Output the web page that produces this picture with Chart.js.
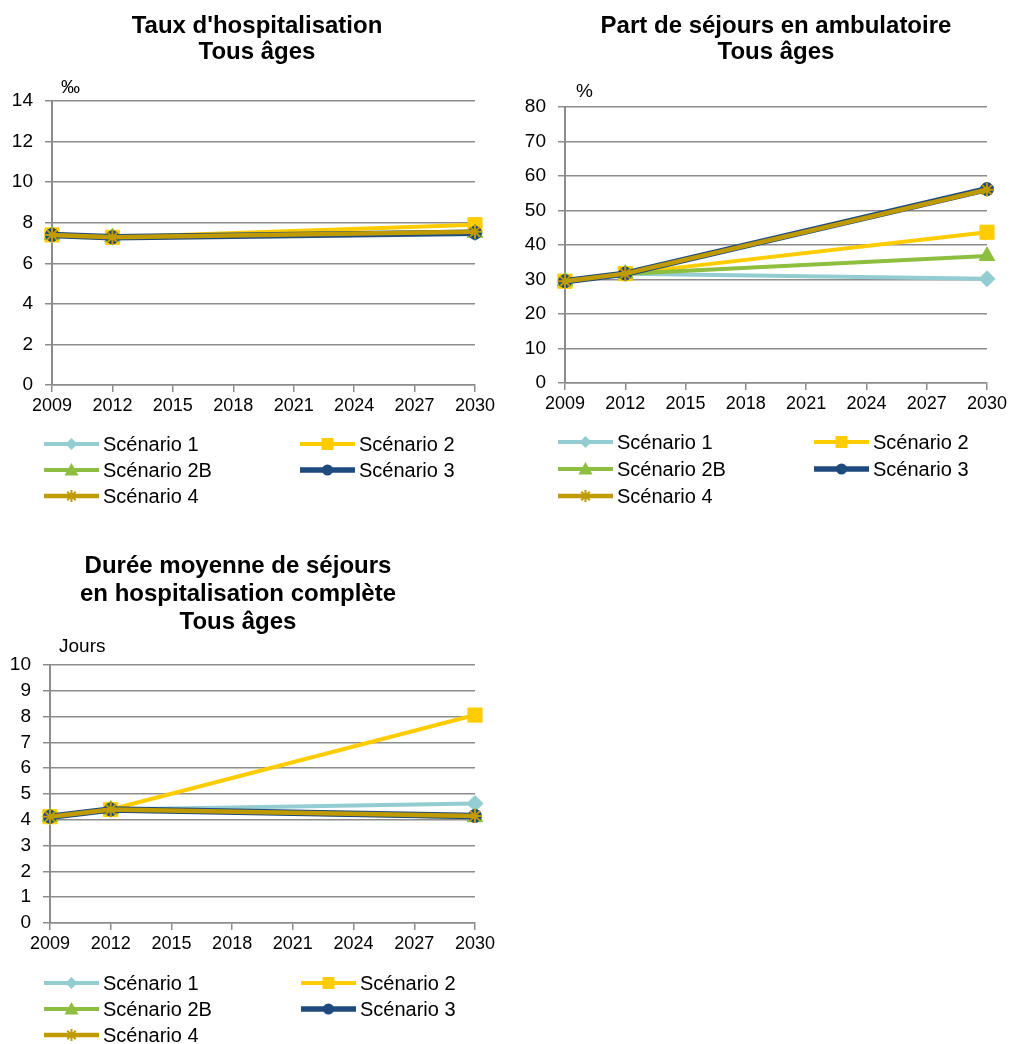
<!DOCTYPE html>
<html lang="fr">
<head>
<meta charset="utf-8">
<script src="https://cdn.jsdelivr.net/npm/chart.js@4.4.1/dist/chart.umd.min.js"></script>
<style>
  html, body { margin: 0; padding: 0; background: #fff; }
  #page { position: relative; width: 1010px; height: 1044px; }
  canvas { position: absolute; }
</style>
</head>
<body>
<div id="page">
  <canvas id="hosp" width="505" height="530" style="left:0;top:0"></canvas>
  <canvas id="ambu" width="505" height="530" style="left:505px;top:0"></canvas>
  <canvas id="dms" width="505" height="504" style="left:0;top:540px"></canvas>
</div>
<script>
/* Projections hospitalières — 3 line charts, 5 scénarios */

const FONT = "'Liberation Sans', Arial, sans-serif";
const GRID = "#8c8c8c";

const YEARS = ["2009", "2012", "2015", "2018", "2021", "2024", "2027", "2030"];
const SCENARIOS = ["Scénario 1", "Scénario 2", "Scénario 2B", "Scénario 3", "Scénario 4"];
const COLORS = ["#93CDD1", "#FFCC00", "#8DBE3F", "#1F4A7E", "#BF9B00"];

// taux d'hospitalisation, tous âges (‰)
const HOSP_S1  = [7.40, 7.28, null, null, null, null, null, 7.50];
const HOSP_S2  = [7.40, 7.28, null, null, null, null, null, 7.90];
const HOSP_S2B = [7.40, 7.28, null, null, null, null, null, 7.50];
const HOSP_S3  = [7.40, 7.28, null, null, null, null, null, 7.50];
const HOSP_S4  = [7.40, 7.28, null, null, null, null, null, 7.55];

// part de séjours en ambulatoire (%)
const AMBU_S1  = [29.5, 31.7, null, null, null, null, null, 30.2];
const AMBU_S2  = [29.5, 31.7, null, null, null, null, null, 43.7];
const AMBU_S2B = [29.5, 31.7, null, null, null, null, null, 36.8];
const AMBU_S3  = [29.5, 31.7, null, null, null, null, null, 56.2];
const AMBU_S4  = [29.5, 31.7, null, null, null, null, null, 56.0];

// durée moyenne de séjour en hospitalisation complète (jours)
const DMS_S1  = [4.12, 4.40, null, null, null, null, null, 4.63];
const DMS_S2  = [4.12, 4.40, null, null, null, null, null, 8.06];
const DMS_S2B = [4.12, 4.40, null, null, null, null, null, 4.10];
const DMS_S3  = [4.12, 4.40, null, null, null, null, null, 4.15];
const DMS_S4  = [4.12, 4.40, null, null, null, null, null, 4.15];

/* ---------- marker look per scénario ---------- */
const STYLES = ["rectRot", "rect", "triangle", "circle", "star"];
const RADII = [8, 10, 9, 6.5, 7];
const WIDTHS = [4, 4, 4, 6.5, 4.5];
const LEG_R = { rectRot: 6, rect: 6, triangle: 7, circle: 5.5, star: 6 };

function drawMarker(ctx, style, x, y, r, color) {
  ctx.save();
  ctx.fillStyle = color; ctx.strokeStyle = color; ctx.lineWidth = 2;
  ctx.beginPath();
  if (style === "rectRot") {
    ctx.moveTo(x, y - r); ctx.lineTo(x + r, y); ctx.lineTo(x, y + r); ctx.lineTo(x - r, y);
    ctx.closePath(); ctx.fill();
  } else if (style === "rect") {
    ctx.fillRect(x - r, y - r, 2 * r, 2 * r);
  } else if (style === "triangle") {
    ctx.moveTo(x, y - r); ctx.lineTo(x + r, y + r * 0.8); ctx.lineTo(x - r, y + r * 0.8);
    ctx.closePath(); ctx.fill();
  } else if (style === "circle") {
    ctx.arc(x, y, r, 0, Math.PI * 2); ctx.fill();
  } else {
    for (let k = 0; k < 4; k++) {
      const a = k * Math.PI / 4;
      ctx.moveTo(x - Math.cos(a) * r, y - Math.sin(a) * r);
      ctx.lineTo(x + Math.cos(a) * r, y + Math.sin(a) * r);
    }
    ctx.stroke();
  }
  ctx.restore();
}

/* ---------- titles, unit label and legend ---------- */
const decor = {
  id: "decor",
  afterDraw(chart, args, o) {
    const ctx = chart.ctx;
    ctx.save();
    ctx.fillStyle = "#000";
    ctx.textAlign = "center";
    ctx.textBaseline = "alphabetic";
    ctx.font = `bold 24px ${FONT}`;
    o.title.forEach((t, i) => ctx.fillText(t, o.titleX, o.titleY + i * o.titleGap));

    ctx.textAlign = "left";
    ctx.font = `19px ${FONT}`;
    ctx.fillText(o.unit, o.unitX, o.unitY);

    ctx.font = `20px ${FONT}`;
    ctx.textBaseline = "middle";
    chart.data.datasets.forEach((ds, i) => {
      const x0 = i % 2 ? o.legX2 : o.legX1;
      const y = o.legY + Math.floor(i / 2) * o.legDy;
      ctx.strokeStyle = ds.borderColor;
      ctx.lineWidth = Math.min(ds.borderWidth, 5.5);
      ctx.beginPath(); ctx.moveTo(x0, y); ctx.lineTo(x0 + 55, y); ctx.stroke();
      drawMarker(ctx, ds.pointStyle, x0 + 27.5, y, LEG_R[ds.pointStyle], ds.borderColor);
      ctx.fillStyle = "#000";
      ctx.fillText(ds.label, x0 + 59, y + 1);
    });
    ctx.restore();
  },
};

function series(values) {
  return SCENARIOS.map((label, i) => ({
    label,
    data: values[i],
    borderColor: COLORS[i],
    backgroundColor: COLORS[i],
    borderWidth: WIDTHS[i],
    pointStyle: STYLES[i],
    pointRadius: RADII[i],
    pointBorderColor: COLORS[i],
    pointBackgroundColor: COLORS[i],
    pointBorderWidth: STYLES[i] === "star" ? 2 : 1,
    spanGaps: true,
    tension: 0,
    order: SCENARIOS.length - i, // later scénarios drawn on top
  }));
}

function lineChart(id, values, yMax, yStep, box, decorOpts) {
  new Chart(document.getElementById(id), {
    type: "line",
    data: { labels: YEARS, datasets: series(values) },
    options: {
      responsive: false,
      animation: false,
      layout: { padding: { left: 0, right: box.right, top: box.top, bottom: box.bottom } },
      plugins: { legend: { display: false }, tooltip: { enabled: false }, decor: decorOpts },
      scales: {
        x: {
          grid: { drawOnChartArea: false, color: GRID, lineWidth: 1.5, tickLength: 7 },
          border: { color: GRID, width: 1.5 },
          ticks: { color: "#000", font: { family: FONT, size: 18 }, padding: 3,
                   maxRotation: 0, autoSkip: false },
          afterFit: (s) => { s.height = 30; },
        },
        y: {
          min: 0, max: yMax,
          grid: { color: GRID, lineWidth: 1.5, tickLength: 7 },
          border: { color: GRID, width: 2 },
          ticks: { stepSize: yStep, color: "#000", font: { family: FONT, size: 19 }, padding: 12 },
          afterFit: (s) => { s.width = box.left; },
        },
      },
    },
    plugins: [decor],
  });
}

lineChart("hosp", [HOSP_S1, HOSP_S2, HOSP_S2B, HOSP_S3, HOSP_S4], 14, 2,
  { left: 52, right: 30, top: 101, bottom: 115 },
  { title: ["Taux d'hospitalisation", "Tous âges"], titleX: 257, titleY: 33, titleGap: 26,
    unit: "‰", unitX: 61, unitY: 93,
    legX1: 44, legX2: 300, legY: 444, legDy: 26 });

lineChart("ambu", [AMBU_S1, AMBU_S2, AMBU_S2B, AMBU_S3, AMBU_S4], 80, 10,
  { left: 60, right: 22, top: 107, bottom: 117 },
  { title: ["Part de séjours en ambulatoire", "Tous âges"], titleX: 271, titleY: 33, titleGap: 26,
    unit: "%", unitX: 71, unitY: 97,
    legX1: 53, legX2: 309, legY: 442, legDy: 27 });

lineChart("dms", [DMS_S1, DMS_S2, DMS_S2B, DMS_S3, DMS_S4], 10, 1,
  { left: 50, right: 30, top: 125, bottom: 91 },
  { title: ["Durée moyenne de séjours", "en hospitalisation complète", "Tous âges"],
    titleX: 238, titleY: 33, titleGap: 28,
    unit: "Jours", unitX: 59, unitY: 112,
    legX1: 44, legX2: 301, legY: 443, legDy: 26 });
</script>
</body>
</html>
